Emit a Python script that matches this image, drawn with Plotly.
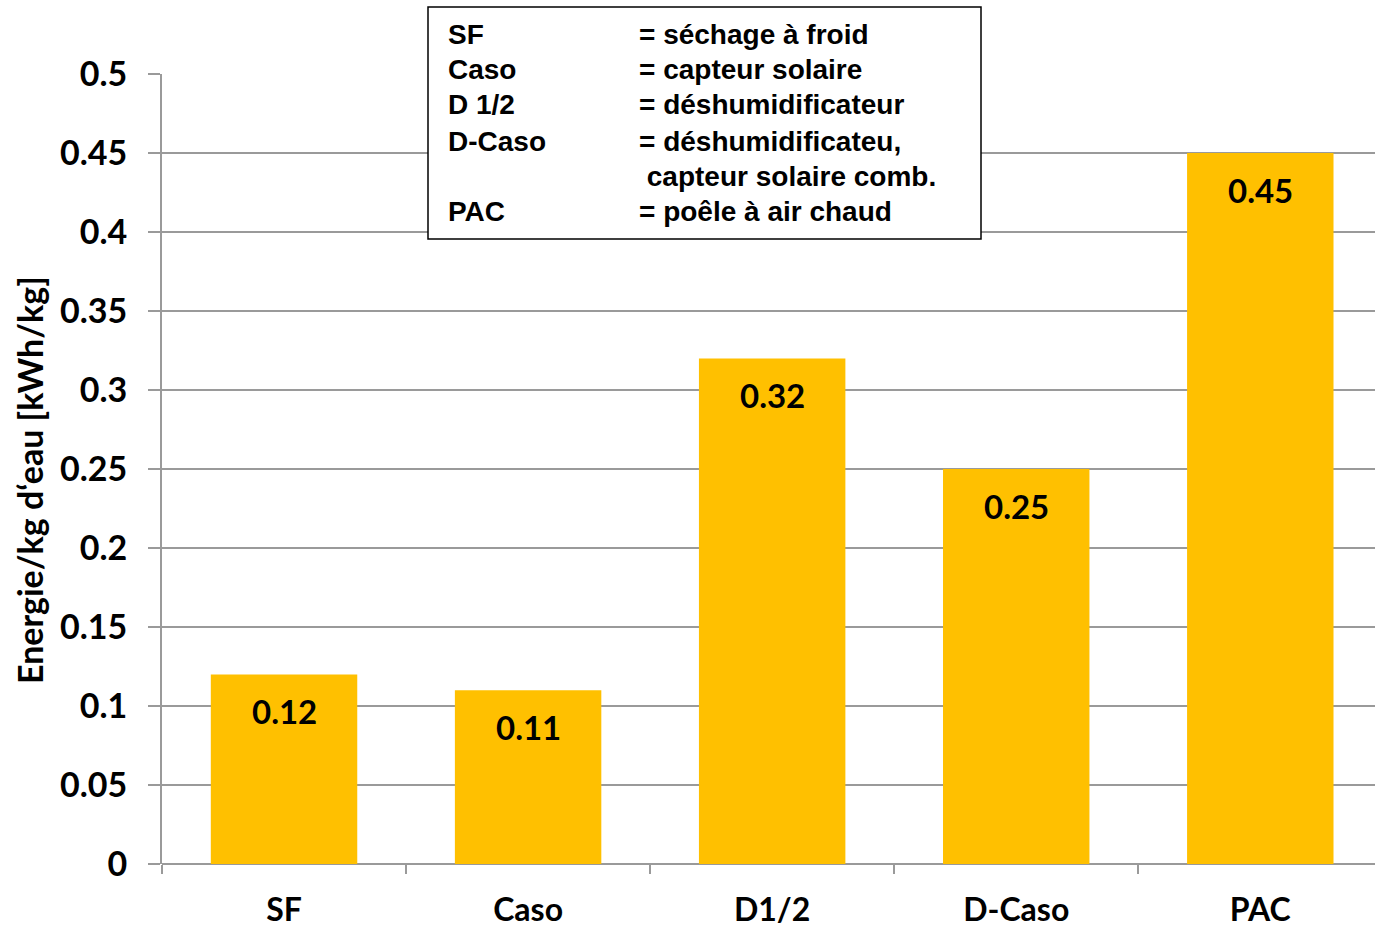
import plotly.graph_objects as go

categories = ["SF", "Caso", "D1/2", "D-Caso", "PAC"]
values = [0.12, 0.11, 0.32, 0.25, 0.45]
value_labels = ["0.12", "0.11", "0.32", "0.25", "0.45"]
y_ticks = [0, 0.05, 0.1, 0.15, 0.2, 0.25, 0.3, 0.35, 0.4, 0.45, 0.5]
y_tick_labels = ["0", "0.05", "0.1", "0.15", "0.2", "0.25", "0.3", "0.35", "0.4", "0.45", "0.5"]
y_title = "Energie/kg d‘eau [kWh/kg]"
legend_keys = ["SF", "Caso", "D 1/2", "D-Caso", "", "PAC"]
legend_desc = ["= séchage à froid", "= capteur solaire", "= déshumidificateur",
               "= déshumidificateu,", " capteur solaire comb.", "= poêle à air chaud"]

W, H = 1375, 928
L, T, B = 162, 74, 864
PW = W - L
PH = B - T

def px_x(p):
    return (p - L) / PW

def px_y(p):
    return (B - p) / PH

ARIAL = "Arial, Liberation Sans, sans-serif"
CAL = "Lato, Open Sans, sans-serif"

fig = go.Figure()
fig.add_trace(go.Bar(
    x=categories, y=values, width=0.6,
    marker=dict(color="#FFC000", line=dict(width=0)),
    showlegend=False, hoverinfo="x+y",
))

annotations = []
for c, v, t in zip(categories, values, value_labels):
    annotations.append(dict(
        x=c, y=v, xref="x", yref="y", text=t, showarrow=False,
        yanchor="middle", yshift=-37,
        font=dict(family=CAL, size=33, color="black", weight="bold"),
    ))

annotations.append(dict(
    x=px_x(29), y=px_y(480), xref="paper", yref="paper", text=y_title,
    showarrow=False, textangle=-90, xanchor="center", yanchor="middle",
    font=dict(family=CAL, size=34, color="black", weight="bold"),
))

row_y = [35, 70, 105, 141, 176, 211]
for i, (k, d) in enumerate(zip(legend_keys, legend_desc)):
    if k:
        annotations.append(dict(
            x=px_x(446), y=px_y(row_y[i]), xref="paper", yref="paper", text=k,
            showarrow=False, xanchor="left", yanchor="middle",
            font=dict(family=ARIAL, size=28, color="black", weight="bold"),
        ))
    txt = "&nbsp;" + d[1:] if d.startswith(" ") else d
    annotations.append(dict(
        x=px_x(637), y=px_y(row_y[i]), xref="paper", yref="paper", text=txt,
        showarrow=False, xanchor="left", yanchor="middle",
        font=dict(family=ARIAL, size=28, color="black", weight="bold"),
    ))

fig.update_layout(
    width=W, height=H,
    margin=dict(l=L, r=0, t=T, b=H - B, pad=0, autoexpand=False),
    paper_bgcolor="white", plot_bgcolor="white",
    bargap=0.4,
    annotations=annotations,
    shapes=[dict(
        type="rect", xref="paper", yref="paper",
        x0=px_x(428), x1=px_x(981), y0=px_y(239), y1=px_y(7),
        line=dict(color="black", width=1.5), fillcolor="white", layer="above",
    )],
    xaxis=dict(
        range=[-0.5, 4.47], showgrid=False, zeroline=False, automargin=False,
        showline=False, ticks="outside", tickson="boundaries",
        ticklen=9, tickwidth=2, tickcolor="#9a9a9a",
        ticklabelstandoff=24,
        tickfont=dict(family=CAL, size=32, color="black", weight="bold"),
        fixedrange=True,
    ),
    yaxis=dict(
        range=[0, 0.5], tickvals=y_ticks, ticktext=y_tick_labels, automargin=False,
        showgrid=True, gridcolor="#9a9a9a", gridwidth=2,
        zeroline=True, zerolinecolor="#9a9a9a", zerolinewidth=2,
        showline=True, linecolor="#9a9a9a", linewidth=2,
        ticks="outside", ticklen=12, tickwidth=2, tickcolor="#9a9a9a",
        ticklabelstandoff=14,
        tickfont=dict(family=CAL, size=34, color="black", weight="bold"),
        fixedrange=True,
    ),
)

fig.write_html("out.html")
